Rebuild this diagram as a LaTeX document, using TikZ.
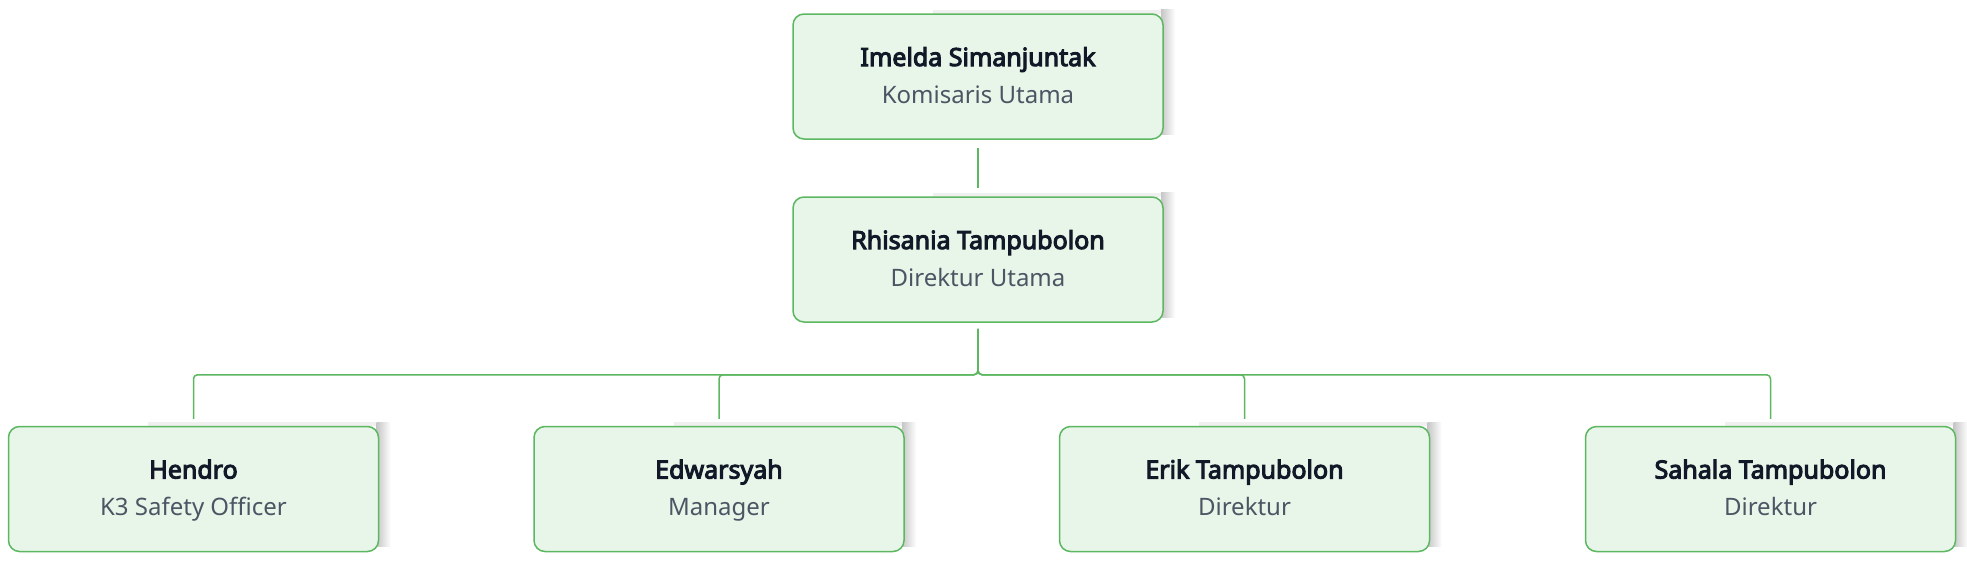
\documentclass[tikz,border=0pt]{standalone}
\usepackage{fontspec}
\setmainfont{Noto Sans}[AutoFakeBold=4]
\usetikzlibrary{calc}
\definecolor{boxfill}{HTML}{E8F5E9}
\definecolor{boxline}{HTML}{5CB860}
\definecolor{namecol}{HTML}{111827}
\definecolor{rolecol}{HTML}{4B5563}
\tikzset{
  person/.style={draw=boxline, line width=1.5pt, fill=boxfill, rounded corners=11pt,
    minimum width=370pt, minimum height=125pt, inner sep=0pt},
  nametext/.style={anchor=base, font=\fontsize{25}{30}\selectfont\bfseries, text=namecol, inner sep=0pt},
  roletext/.style={anchor=base, font=\fontsize{24}{29}\selectfont, text=rolecol, inner sep=0pt},
  link/.style={draw=boxline, line width=1.5pt, rounded corners=4pt}
}
\newcommand{\boxshadow}[1]{%
  \fill[black!6] ($(#1.north west)+(140,-4)$) rectangle ($(#1.north east)+(10,0)$);
  \shade[left color=black!22, right color=white] ($(#1.north east)+(-2,-4)$) rectangle ($(#1.south east)+(12,-5)$);
}
\newcommand{\personbox}[5]{%
  \node[person] (#1) at (#2,#3) {};
  \node[nametext] (#1n) at ($(#1.center)+(0,-10.5)$) {#4};
  \node[roletext] (#1r) at ($(#1.center)+(0,26.5)$) {#5};
}
\begin{document}
\begin{tikzpicture}[x=1pt,y=-1pt]
\useasboundingbox[fill=white] (0,0) rectangle (1967,560);
\foreach \cx/\cy in {978/76.5, 978/259.5, 193.5/489, 719/489, 1244.5/489, 1770.5/489}{
  \path (\cx,\cy) node[minimum width=370pt, minimum height=125pt, inner sep=0pt] (sh) {};
  \boxshadow{sh}
}
\personbox{top}{978}{76.5}{Imelda Simanjuntak}{Komisaris Utama}
\personbox{mid}{978}{259.5}{Rhisania Tampubolon}{Direktur Utama}
\personbox{ca}{193.5}{489}{Hendro}{K3 Safety Officer}
\personbox{cb}{719}{489}{Edwarsyah}{Manager}
\personbox{cc}{1244.5}{489}{Erik Tampubolon}{Direktur}
\personbox{cd}{1770.5}{489}{Sahala Tampubolon}{Direktur}
\draw[link] ($(top.south)+(0,8)$) -- ($(mid.north)+(0,-8)$);
\coordinate (bus) at ($(mid.south)+(0,6)$);
\foreach \c in {ca,cb,cc,cd}{
  \draw[link] (bus) -- ++(0,46) -| ($(\c.north)+(0,-7)$);
}
\end{tikzpicture}
\end{document}
